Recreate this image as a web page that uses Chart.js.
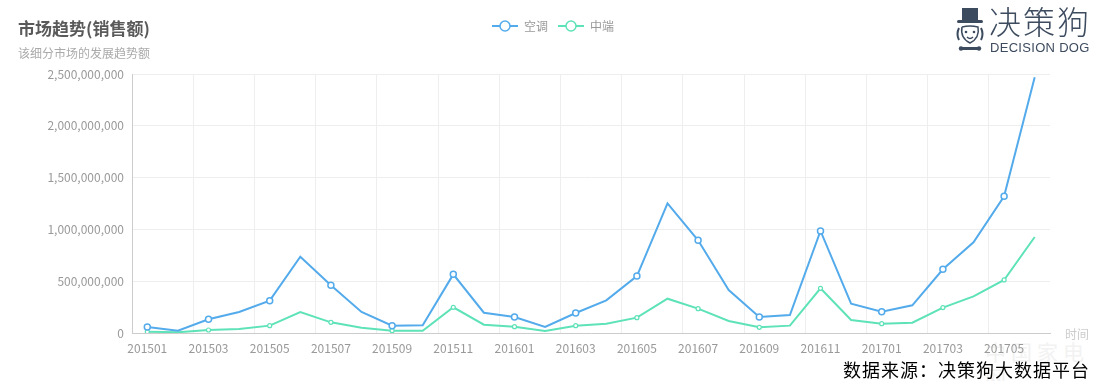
<!DOCTYPE html>
<html>
<head>
<meta charset="utf-8">
<script src="https://cdn.jsdelivr.net/npm/chart.js@4"></script>
<style>
  body { margin: 0; background: #fff; font-family: "Noto Sans CJK SC", sans-serif; }
  #wrap { position: relative; width: 1113px; height: 381px; overflow: hidden; }
  #chart { position: absolute; left: 0; top: 0; }
  .title { position: absolute; left: 18px; top: 16px; font-size: 17px; font-weight: bold; color: #5a5a5a; line-height: 24px; }
  .subtitle { position: absolute; left: 18px; top: 44px; font-size: 12px; color: #aaa; line-height: 18px; }
  .logo { position: absolute; left: 953px; top: 4px; width: 150px; height: 56px; }
  .logo-cn { position: absolute; left: 36px; top: -2px; font-size: 32px; font-weight: 300; color: #3d4b5f; line-height: 36px; letter-spacing: 2px; }
  .logo-en { position: absolute; left: 37px; top: 36px; font-family: "Liberation Sans", sans-serif; font-size: 13px; color: #3d4b5f; line-height: 16px; letter-spacing: 0.3px; }
  .watermark { position: absolute; left: 985px; top: 338px; font-size: 21px; color: #f2f2f2; letter-spacing: 5px; line-height: 26px; }
  .source { position: absolute; left: 843px; top: 358px; font-size: 18px; color: #000; line-height: 22px; letter-spacing: 1px; }
</style>
</head>
<body>
<div id="wrap">
  <div class="watermark">中国家电网</div>
  <canvas id="chart" width="1113" height="381"></canvas>
  <div class="title">市场趋势(销售额)</div>
  <div class="subtitle">该细分市场的发展趋势额</div>
  <div class="logo">
    <svg width="34" height="50" viewBox="0 0 34 50" style="position:absolute;left:0;top:2px">
      <rect x="9" y="2" width="16" height="12" fill="#3d4b5f"/>
      <rect x="4" y="14" width="26" height="3" rx="1.5" fill="#3d4b5f"/>
      <path d="M6 22 Q3 28 6 34 M28 22 Q31 28 28 34" stroke="#3d4b5f" stroke-width="2" fill="none"/>
      <path d="M9 21 Q17 19 25 21 Q27 32 17 37 Q7 32 9 21" stroke="#3d4b5f" stroke-width="1.5" fill="none"/>
      <circle cx="13" cy="26" r="1.3" fill="#3d4b5f"/>
      <circle cx="21" cy="26" r="1.3" fill="#3d4b5f"/>
      <path d="M14 31 Q17 34 20 31" stroke="#3d4b5f" stroke-width="1.5" fill="none"/>
      <rect x="8" y="41" width="18" height="3" rx="1.5" fill="#3d4b5f"/>
      <circle cx="8" cy="42.5" r="2.2" fill="#3d4b5f"/>
      <circle cx="26" cy="42.5" r="2.2" fill="#3d4b5f"/>
    </svg>
    <div class="logo-cn">决策狗</div>
    <div class="logo-en">DECISION DOG</div>
  </div>
  <div class="source">数据来源：决策狗大数据平台</div>
</div>
<script>
// Months
const categories = [
  "201501", "201502", "201503", "201504", "201505", "201506",
  "201507", "201508", "201509", "201510", "201511", "201512",
  "201601", "201602", "201603", "201604", "201605", "201606",
  "201607", "201608", "201609", "201610", "201611", "201612",
  "201701", "201702", "201703", "201704", "201705", "201706",
];

// 空调 sales
const acValues = [
  58000000, 22000000, 132000000, 203000000, 312000000, 737000000,
  460000000, 203000000, 71000000, 74000000, 566000000, 196000000,
  154000000, 58000000, 193000000, 315000000, 550000000, 1252000000,
  895000000, 415000000, 154000000, 174000000, 985000000, 283000000,
  206000000, 267000000, 615000000, 875000000, 1319000000, 2468000000,
];

// 中端 sales
const midValues = [
  13000000, 7000000, 29000000, 39000000, 71000000, 203000000,
  103000000, 51000000, 22000000, 22000000, 248000000, 80000000,
  61000000, 19000000, 71000000, 90000000, 148000000, 331000000,
  235000000, 116000000, 55000000, 71000000, 431000000, 125000000,
  90000000, 100000000, 245000000, 354000000, 512000000, 927000000,
];

const yMax = 2500000000;
const yStep = 500000000;

const blue = "#54abeb";
const green = "#5ee2b8";

// legend symbol: line with hollow circle
function makeSymbol(color) {
  const c = document.createElement("canvas");
  c.width = 26;
  c.height = 14;
  const g = c.getContext("2d");
  g.strokeStyle = color;
  g.lineWidth = 2;
  g.beginPath();
  g.moveTo(0, 7);
  g.lineTo(26, 7);
  g.stroke();
  g.beginPath();
  g.arc(13, 7, 5, 0, Math.PI * 2);
  g.fillStyle = "#fff";
  g.fill();
  g.lineWidth = 1.5;
  g.stroke();
  return c;
}
const symbols = [makeSymbol(blue), makeSymbol(green)];

// axis name at the end of x axis
const axisName = {
  id: "axisName",
  afterDraw(chart) {
    const { ctx, chartArea } = chart;
    ctx.save();
    ctx.font = '12px "Noto Sans CJK SC"';
    ctx.fillStyle = "#ccc";
    ctx.textBaseline = "middle";
    ctx.fillText("时间", chartArea.right + 15, chartArea.bottom + 1);
    ctx.restore();
  },
};

// empty box between legend and plot, and legend moved a bit right
const legendGap = {
  id: "legendGap",
  beforeInit(chart) {
    Chart.layouts.addBox(chart, {
      position: "top",
      weight: 0,
      fullSize: true,
      options: {},
      left: 0, top: 0, right: 0, bottom: 0, width: 0, height: 0,
      update(maxWidth) {
        this.width = maxWidth;
        this.height = 32;
      },
      isHorizontal() {
        return true;
      },
      draw() {},
    });
  },
  afterLayout(chart) {
    if (chart.legend) {
      chart.legend.left += 28;
      chart.legend.right += 28;
    }
  },
};

Chart.defaults.font.family = '"Microsoft YaHei", "Noto Sans CJK SC", sans-serif';
Chart.defaults.font.size = 12;
Chart.defaults.color = "#999";

new Chart(document.getElementById("chart"), {
  type: "line",
  data: {
    labels: categories,
    datasets: [
      {
        label: "空调",
        data: acValues,
        borderColor: blue,
        borderWidth: 2,
        tension: 0,
        pointRadius: (ctx) => (ctx.dataIndex % 2 === 0 ? 3 : 0),
        pointHoverRadius: 4,
        pointBackgroundColor: "#fff",
        pointBorderColor: blue,
        pointBorderWidth: 1.5,
      },
      {
        label: "中端",
        data: midValues,
        borderColor: green,
        borderWidth: 2,
        tension: 0,
        pointRadius: (ctx) => (ctx.dataIndex % 2 === 0 ? 2 : 0),
        pointHoverRadius: 3,
        pointBackgroundColor: "#fff",
        pointBorderColor: green,
        pointBorderWidth: 1.2,
      },
    ],
  },
  options: {
    responsive: false,
    animation: false,
    layout: {
      padding: { top: 10, right: 63, bottom: 0, left: 0 },
    },
    plugins: {
      legend: {
        position: "top",
        labels: {
          usePointStyle: true,
          pointStyleWidth: 26,
          padding: 10,
          color: "#999",
          font: { size: 12 },
          generateLabels: (chart) => {
            const items = Chart.defaults.plugins.legend.labels.generateLabels(chart);
            items.forEach((item, i) => {
              item.pointStyle = symbols[i];
            });
            return items;
          },
        },
      },
      tooltip: { enabled: true },
    },
    scales: {
      x: {
        offset: true,
        grid: {
          offset: true,
          drawTicks: false,
          color: (ctx) => (ctx.index % 2 === 0 ? "#eee" : "rgba(0,0,0,0)"),
        },
        border: { color: "#ccc" },
        ticks: {
          autoSkip: false,
          maxRotation: 0,
          padding: 8,
          color: "#999",
          callback: (val, i) => (i % 2 === 0 ? categories[i] : ""),
        },
        afterFit: (scale) => {
          scale.height = 48;
        },
      },
      y: {
        min: 0,
        max: yMax,
        grid: { color: "#eee", drawTicks: false },
        border: { color: "#ccc" },
        ticks: {
          stepSize: yStep,
          padding: 8,
          color: "#999",
          callback: (val) => Number(val).toLocaleString("en-US"),
        },
        afterFit: (scale) => {
          scale.width = 132;
        },
      },
    },
  },
  plugins: [axisName, legendGap],
});
</script>
</body>
</html>
